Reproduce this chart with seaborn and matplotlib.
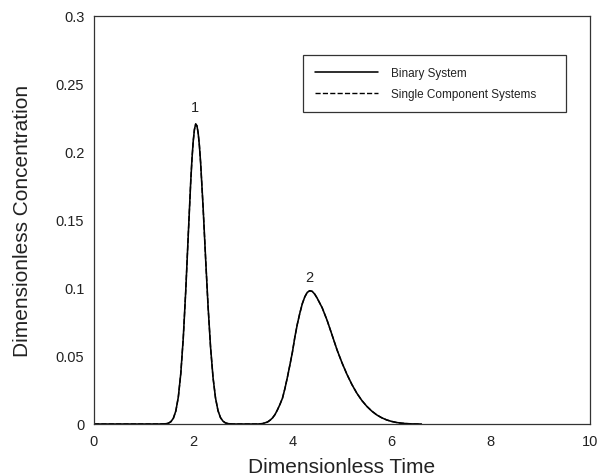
import matplotlib
matplotlib.use("Agg")
import matplotlib.pyplot as plt
import seaborn as sns
import pandas as pd

# ---- data ----
time = [0.00, 1.00, 1.30, 1.40, 1.45, 1.50, 1.55, 1.60, 1.65, 1.70, 1.75, 1.80,
        1.85, 1.90, 1.95, 1.975, 2.00, 2.025, 2.05, 2.075, 2.10, 2.125, 2.15,
        2.20, 2.25, 2.30, 2.35, 2.40, 2.45, 2.50, 2.55, 2.60, 2.65, 2.70, 2.75,
        2.80, 3.00, 3.30, 3.40, 3.50, 3.55, 3.60, 3.65, 3.70, 3.75, 3.80, 3.85,
        3.90, 3.95, 4.00, 4.05, 4.10, 4.15, 4.20, 4.25, 4.30, 4.35, 4.40, 4.45,
        4.50, 4.60, 4.70, 4.80, 4.90, 5.00, 5.10, 5.20, 5.30, 5.40, 5.50, 5.60,
        5.70, 5.80, 5.90, 6.00, 6.10, 6.20, 6.30, 6.40, 6.50, 6.60]

binary_conc = [0.0, 0.0, 0.0, 0.0001, 0.0002, 0.0006, 0.0017, 0.0042, 0.0096,
               0.0198, 0.0372, 0.0634, 0.0983, 0.1387, 0.1781, 0.1947, 0.2078,
               0.2166, 0.2206, 0.2193, 0.2140, 0.2047, 0.1919, 0.1591, 0.1218,
               0.0863, 0.0565, 0.0341, 0.0191, 0.0098, 0.0047, 0.0021, 0.0008,
               0.0003, 0.0001, 0.0, 0.0, 0.0, 0.0003, 0.0015, 0.0028, 0.0045,
               0.0070, 0.0105, 0.0145, 0.0190, 0.0262, 0.0345, 0.0435, 0.0528,
               0.0640, 0.0735, 0.0815, 0.0885, 0.0935, 0.0968, 0.0980, 0.0975,
               0.0955, 0.0925, 0.0855, 0.0762, 0.0654, 0.0545, 0.0450, 0.0365,
               0.0290, 0.0226, 0.0173, 0.0130, 0.0095, 0.0067, 0.0046, 0.0030,
               0.0019, 0.0011, 0.0006, 0.0003, 0.0001, 0.0, 0.0]

single_conc = list(binary_conc)

series_names = ["Binary System", "Single Component Systems"]
x_ticks = [0, 2, 4, 6, 8, 10]
x_tick_labels = ["0", "2", "4", "6", "8", "10"]
y_ticks = [0, 0.05, 0.1, 0.15, 0.2, 0.25, 0.3]
y_tick_labels = ["0", "0.05", "0.1", "0.15", "0.2", "0.25", "0.3"]
peak_labels = ["1", "2"]
peak_label_x = [2.04, 4.34]
peak_label_y = [0.233, 0.108]

# ---- plot ----
sns.set_style("white")
plt.rcParams["font.family"] = ["Liberation Sans", "DejaVu Sans"]

fig = plt.figure(figsize=(5.99, 4.77), dpi=100)
ax = fig.add_axes([94 / 599, 52 / 477, 496 / 599, 408 / 477])

df_b = pd.DataFrame({"t": time, "c": binary_conc})
df_s = pd.DataFrame({"t": time, "c": single_conc})
sns.lineplot(data=df_b, x="t", y="c", ax=ax, color="black", lw=1.15,
             sort=False, estimator=None, label=series_names[0])
sns.lineplot(data=df_s, x="t", y="c", ax=ax, color="black", lw=1.0,
             linestyle="--", sort=False, estimator=None, label=series_names[1])

for lab, px, py in zip(peak_labels, peak_label_x, peak_label_y):
    ax.text(px, py, lab, ha="center", va="center", fontsize=10.5, color="#222222")

ax.set_xlim(0, 10)
ax.set_ylim(0, 0.3)
ax.set_xticks(x_ticks)
ax.set_xticklabels(x_tick_labels)
ax.set_yticks(y_ticks)
ax.set_yticklabels(y_tick_labels)
ax.tick_params(direction="in", length=5, width=0.8, color="#444444",
               labelsize=10.5, labelcolor="#222222", pad=7)
for sp in ax.spines.values():
    sp.set_color("#333333")
    sp.set_linewidth(0.9)

ax.set_xlabel("Dimensionless Time", fontsize=15, labelpad=7, color="#222222")
ax.set_ylabel("Dimensionless Concentration", fontsize=15, labelpad=17,
              color="#222222")

leg = ax.legend(loc="upper left", bbox_to_anchor=(0.422, 0.764, 0.529, 0.140),
                mode="expand", borderaxespad=0, fontsize=8.5, frameon=True,
                fancybox=False, handlelength=5.3, handletextpad=1.15,
                borderpad=1.0, labelspacing=0.75)
leg.get_frame().set_edgecolor("black")
leg.get_frame().set_linewidth(0.9)
for t in leg.get_texts():
    t.set_color("#222222")

fig.savefig("out.png", dpi=100)
